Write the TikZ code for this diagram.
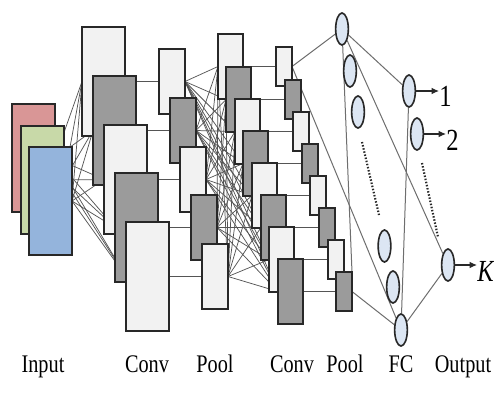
\documentclass[tikz,border=0pt]{standalone}
\usepackage{graphicx}
\usepackage{fontspec}
\setmainfont{Liberation Serif}
\usetikzlibrary{shapes.geometric,arrows.meta}
\definecolor{inred}{RGB}{217,150,150}
\definecolor{ingreen}{RGB}{200,217,168}
\definecolor{inblue}{RGB}{148,180,220}
\definecolor{lightfill}{RGB}{242,242,242}
\definecolor{darkfill}{RGB}{155,155,155}
\definecolor{edgec}{RGB}{40,40,40}
\definecolor{wirec}{RGB}{85,85,85}
\definecolor{neuronc}{RGB}{220,230,243}
\pgfdeclarelayer{bg}
\pgfsetlayers{bg,main}
\newcommand\sqz[1]{\scalebox{0.8}[1]{#1}}
\begin{document}
\begin{tikzpicture}[x=0.75pt,y=-0.75pt,
  box/.style={draw=edgec,line width=1.2pt,inner sep=0pt,outer sep=0pt,anchor=north west},
  inbox/.style={box,minimum width=32.25pt,minimum height=81pt},
  conva/.style={box,minimum width=32.25pt,minimum height=81.75pt},
  poola/.style={box,minimum width=19.5pt,minimum height=48.75pt},
  convb/.style={box,minimum width=18.75pt,minimum height=48.75pt},
  poolb/.style={box,minimum width=12pt,minimum height=29.25pt},
  lt/.style={fill=lightfill}, dk/.style={fill=darkfill},
  wire/.style={draw=wirec,line width=0.55pt},
  fcwire/.style={draw=wirec!85,line width=0.75pt},
  neu/.style={ellipse,draw=edgec,line width=1.2pt,fill=neuronc,minimum width=9.5pt,minimum height=24pt,inner sep=0pt},
  dotline/.style={draw=edgec,line width=1.6pt,dash pattern=on 1.1pt off 1.3pt},
  arrowln/.style={draw=edgec,line width=0.9pt,-{Latex[length=5.5pt,width=5pt]}},
  lab/.style={font=\fontsize{19}{21}\selectfont,inner sep=0pt,anchor=base},
  outlab/.style={font=\fontsize{23}{25}\selectfont,inner sep=0pt,anchor=base west}
]
\useasboundingbox (0,0) rectangle (494,400);

% input
\node[inbox,fill=inred] (inr) at (12,104) {};
\node[inbox,fill=ingreen] (ing) at (21,126) {};
\node[inbox,fill=inblue] (inb) at (29,147) {};

% conv 1
\foreach \x/\y [count=\i] in {82/27,93/76,104/125,115/173,126/222} {
  \ifodd\i \node[conva,lt] (ca\i) at (\x,\y) {}; \else \node[conva,dk] (ca\i) at (\x,\y) {}; \fi
}
% pool 1
\foreach \x/\y [count=\i] in {159/49,170/98,180/147,191/195,202/244} {
  \ifodd\i \node[poola,lt] (pa\i) at (\x,\y) {}; \else \node[poola,dk] (pa\i) at (\x,\y) {}; \fi
}
% conv 2
\foreach \x/\y [count=\i] in {218/34,226/67,235/99,243/131,252/163,261/195,269/227,278/259} {
  \ifodd\i \node[convb,lt] (cb\i) at (\x,\y) {}; \else \node[convb,dk] (cb\i) at (\x,\y) {}; \fi
}
% pool 2
\foreach \x/\y [count=\i] in {276/47,285/80,293/112,302/144,310/176,319/208,328/240,336/272} {
  \ifodd\i \node[poolb,lt] (pb\i) at (\x,\y) {}; \else \node[poolb,dk] (pb\i) at (\x,\y) {}; \fi
}

% FC neurons
\node[neu] (n1) at (342,29) {};
\node[neu] (n2) at (350,71) {};
\node[neu] (n3) at (358,112) {};
\node[neu] (n4) at (384.5,246) {};
\node[neu] (n5) at (393,287) {};
\node[neu] (n6) at (401,330) {};
% output neurons
\node[neu] (o1) at (409,91) {};
\node[neu] (o2) at (417,134) {};
\node[neu] (oK) at (448,265) {};

% dots
\coordinate (d1s) at (362,142);
\coordinate (d1e) at (379,215);
\coordinate (d2s) at (422,163);
\coordinate (d2e) at (438,237);
\draw[dotline] (d1s) -- (d1e);
\draw[dotline] (d2s) -- (d2e);

% output labels and arrows
\node[outlab] (l1) at (439,106) {\sqz{1}};
\node[outlab] (l2) at (446,150) {\sqz{2}};
\node[outlab] (lK) at (477,281) {\sqz{\textit{K}}};
\draw[arrowln] (o1.east) -- (o1.east -| l1.west);
\draw[arrowln] (o2.east) -- (o2.east -| l2.west);
\draw[arrowln] (oK.east) -- (oK.east -| lK.west);

% bottom labels
\node[lab] (t1) at (43,372) {\sqz{Input}};
\node[lab] (t2) at (147,372) {\sqz{Conv}};
\node[lab] (t3) at (215,372) {\sqz{Pool}};
\node[lab] (t4) at (292,372) {\sqz{Conv}};
\node[lab] (t5) at (345,372) {\sqz{Pool}};
\node[lab] (t6) at (401,372) {\sqz{FC}};
\node[lab] (t7) at (463,372) {\sqz{Output}};

\begin{pgfonlayer}{bg}
  \fill[white] (0,0) rectangle (494,400);
  \foreach \k in {inr,ing,inb}
    \foreach \i in {1,...,5}
      \draw[wire] (\k.east) -- (ca\i.west);
  \foreach \i in {1,...,5}
    \draw[wire] (ca\i.center) -- (pa\i.center);
  \foreach \i in {1,...,5}
    \foreach \j in {1,...,8}
      \draw[wire] (pa\i.east) -- (cb\j.west);
  \foreach \i in {1,...,8}
    \draw[wire] (cb\i.center) -- (pb\i.center);
  \draw[fcwire] (pb1.east) -- (n1);
  \draw[fcwire] (pb1.east) -- (n6);
  \draw[fcwire] (n1) -- (pb8.north east);
  \draw[fcwire] (pb8.east) -- (n6);
  \draw[fcwire] (n1) -- (o1);
  \draw[fcwire] (n1) -- (oK);
  \draw[fcwire] (o1) -- (n6);
  \draw[fcwire] (n6) -- (oK);
\end{pgfonlayer}
\end{tikzpicture}
\end{document}
